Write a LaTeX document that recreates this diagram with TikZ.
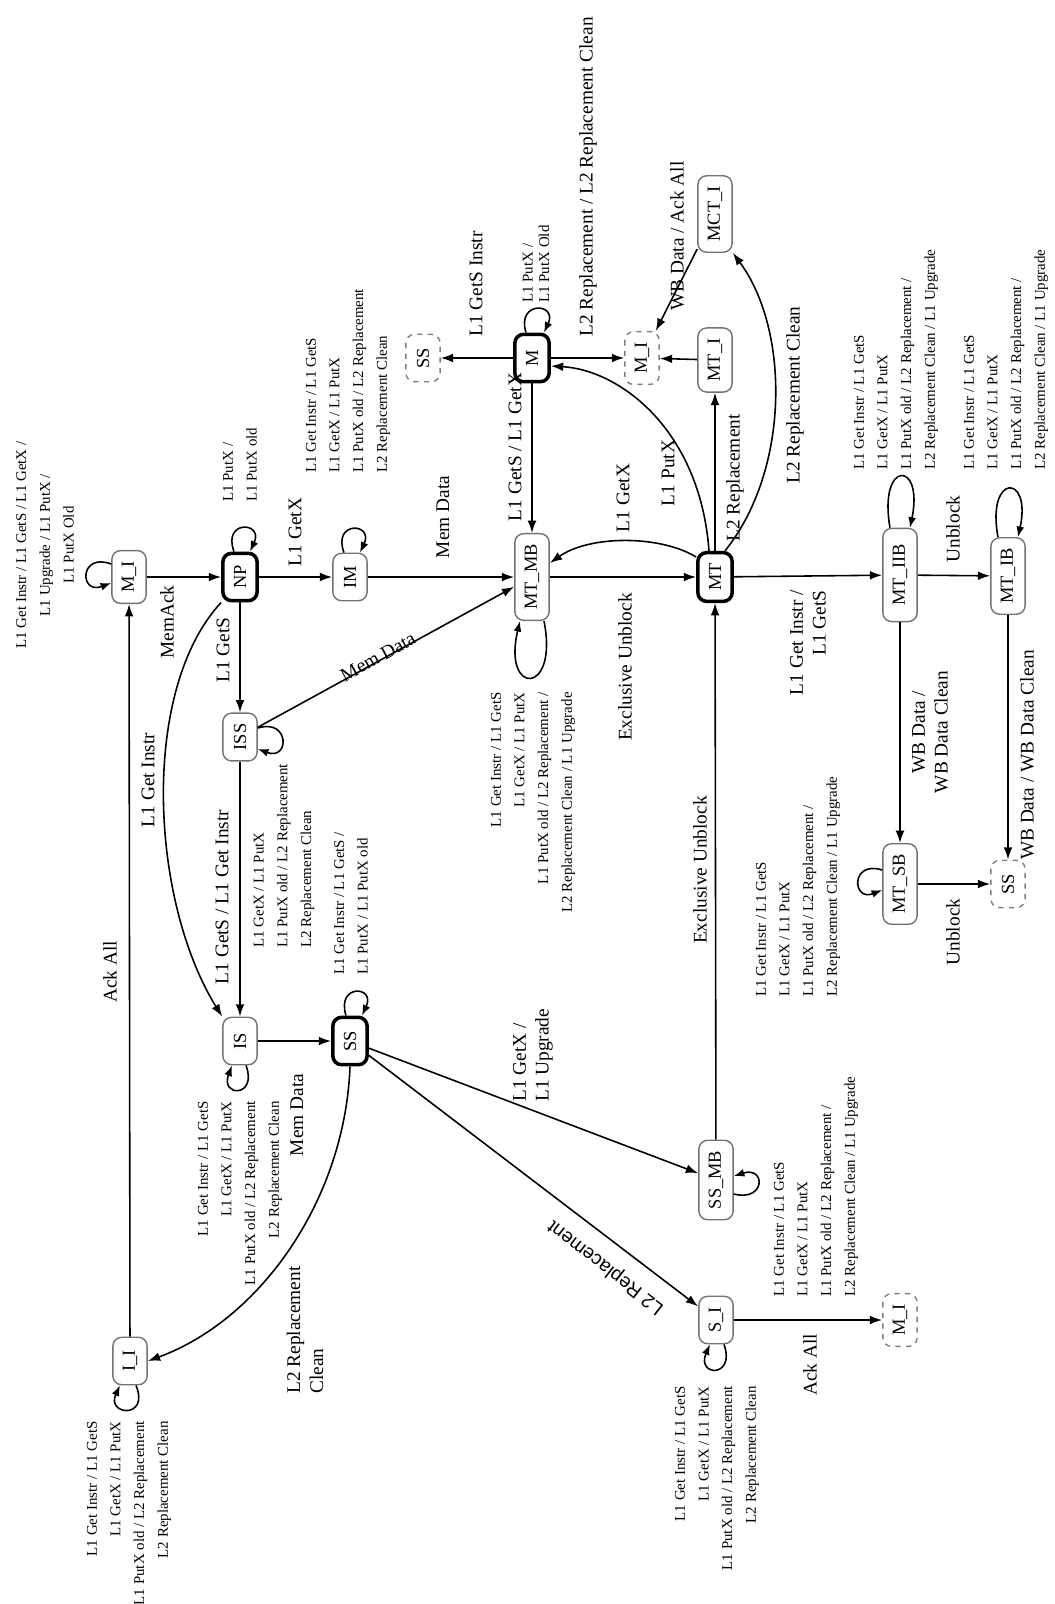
\documentclass[tikz,border=0pt]{standalone}
\usepackage{fontspec}
\setmainfont{Liberation Serif}
\newfontfamily\sansfont{Liberation Sans}
\usetikzlibrary{arrows.meta}

\tikzset{
  stbox/.style={draw=black!55, line width=0.8pt, rounded corners=5pt, rotate=90,
    minimum width=27pt, minimum height=19.5pt, inner xsep=6pt, inner ysep=2pt,
    fill=white, font=\fontsize{10.5}{12}\selectfont},
  stmain/.style={stbox, draw=black, line width=2pt},
  stref/.style={stbox, dashed, draw=black!50},
  biglab/.style={rotate=90, inner sep=0pt, font=\fontsize{11}{13}\selectfont},
  smalllab/.style={rotate=90, inner sep=0pt, font=\fontsize{8.5}{13.5}\selectfont},
  arrowline/.style={-{Latex[length=7pt,width=5pt]}, line width=0.9pt},
  loopline/.style={-{Latex[length=6pt,width=4.5pt]}, line width=0.9pt}
}

\begin{document}
\begin{tikzpicture}[x=0.2mm,y=-0.2mm]
\useasboundingbox (0,0) rectangle (1055,1604);

\node[stbox]  (mi)    at (129,577)  {M\_I};
\node[stmain] (np)    at (240,577)  {NP};
\node[stbox]  (im)    at (350,577)  {IM};
\node[stbox]  (mtmb)  at (532,577)  {MT\_MB};
\node[stmain] (mt)    at (715,577)  {MT};
\node[stbox, minimum width=53pt] (mtiib) at (900,575) {MT\_IIB};
\node[stbox]  (mtib)  at (1008,576) {MT\_IB};
\node[stref]  (ssa)   at (423,358)  {SS};
\node[stmain] (m)     at (532,358)  {M};
\node[stref]  (mia)   at (642,358)  {M\_I};
\node[stbox]  (mti)   at (715,360)  {MT\_I};
\node[stbox]  (mcti)  at (715,214)  {MCT\_I};
\node[stbox]  (iss)   at (240,737)  {ISS};
\node[stbox]  (is)    at (240,1041) {IS};
\node[stmain] (ss)    at (350,1041) {SS};
\node[stbox]  (ssmb)  at (716,1180) {SS\_MB};
\node[stbox]  (si)    at (716,1320) {S\_I};
\node[stref]  (mib)   at (900,1320) {M\_I};
\node[stbox]  (ii)    at (130,1361) {I\_I};
\node[stbox]  (mtsb)  at (900,884)  {MT\_SB};
\node[stref]  (ssb)   at (1008,884) {SS};

\draw[arrowline] (mi) -- (np);
\draw[arrowline] (np) -- (im);
\draw[arrowline] (im) -- (mtmb);
\draw[arrowline] (mtmb) -- (mt);
\draw[arrowline] (mt) -- (mtiib);
\draw[arrowline] (mtiib) -- (mtib);
\draw[arrowline] (np) -- (iss);
\draw[arrowline] (iss) -- (is);
\draw[arrowline] (iss) -- (mtmb);
\draw[arrowline] (is) -- (ss);
\draw[arrowline] (ii) -- (mi);
\draw[arrowline] (ss) -- (ssmb);
\draw[arrowline] (ss) -- (si);
\draw[arrowline] (ssmb) -- (mt);
\draw[arrowline] (si) -- (mib);
\draw[arrowline] (mtiib) -- (mtsb);
\draw[arrowline] (mtib) -- (ssb);
\draw[arrowline] (mtsb) -- (ssb);
\draw[arrowline] (m) -- (mtmb);
\draw[arrowline] (m) -- (ssa);
\draw[arrowline] (m) -- (mia);
\draw[arrowline] (mti) -- (mia);
\draw[arrowline] (mcti) -- (mia);
\draw[arrowline] (mt) -- (mti);
\draw[arrowline] (np.north west) .. controls (140,690) and (150,900) .. (is.north east);
\draw[arrowline] (ss.west) .. controls (345,1200) and (260,1320) .. (ii.south);
\draw[arrowline] ([shift={(0,-20)}]mt.north) .. controls (660,535) and (590,535) .. ([shift={(0,-14)}]mtmb.south);
\draw[arrowline] ([shift={(-6,0)}]mt.east) .. controls (700,430) and (620,370) .. ([shift={(0,8)}]m.south);
\draw[arrowline] ([shift={(10,0)}]mt.east) .. controls (790,470) and (790,330) .. (mcti.south west);

\draw[loopline] ([shift={(0,-13)}]mi.north) .. controls +(-32,-12) and +(-32,12) .. ([shift={(0,6)}]mi.north);
\draw[loopline] ([shift={(-6,0)}]np.east) .. controls +(-12,-32) and +(14,-30) .. ([shift={(10,0)}]np.east);
\draw[loopline] ([shift={(-6,0)}]im.east) .. controls +(-12,-32) and +(14,-30) .. ([shift={(10,0)}]im.east);
\draw[loopline] ([shift={(0,-9)}]iss.south) .. controls +(32,-10) and +(32,12) .. ([shift={(0,12)}]iss.south);
\draw[loopline] ([shift={(12,0)}]mtmb.west) .. controls +(15,75) and +(-18,75) .. ([shift={(-12,0)}]mtmb.west);
\draw[loopline] ([shift={(-10,0)}]mtiib.east) .. controls +(-12,-68) and +(14,-68) .. ([shift={(10,0)}]mtiib.east);
\draw[loopline] ([shift={(-10,0)}]mtib.east) .. controls +(-12,-64) and +(14,-64) .. ([shift={(10,0)}]mtib.east);
\draw[loopline] ([shift={(-6,0)}]m.east) .. controls +(-10,-32) and +(14,-30) .. ([shift={(12,0)}]m.east);
\draw[loopline] ([shift={(6,0)}]is.west) .. controls +(12,32) and +(-12,32) .. ([shift={(-8,0)}]is.west);
\draw[loopline] ([shift={(-4,0)}]ss.east) .. controls +(-10,-32) and +(14,-30) .. ([shift={(12,0)}]ss.east);
\draw[loopline] ([shift={(6,0)}]ii.west) .. controls +(14,34) and +(-14,30) .. ([shift={(-10,0)}]ii.west);
\draw[loopline] ([shift={(0,14)}]ssmb.south) .. controls +(32,8) and +(32,-10) .. ([shift={(0,-4)}]ssmb.south);
\draw[loopline] ([shift={(8,0)}]si.west) .. controls +(12,34) and +(-14,32) .. ([shift={(-6,0)}]si.west);
\draw[loopline] ([shift={(0,-14)}]mtsb.north) .. controls +(-32,-10) and +(-30,12) .. ([shift={(0,6)}]mtsb.north);

\node[biglab] (lmemack) at (167,622) {MemAck};
\node[biglab] (lgetxnp) at (295,532) {L1 GetX};
\node[biglab] (lmemdataim) at (443,517) {Mem Data};
\node[inner sep=0pt, rotate=28.7, font=\fontsize{11}{13}\selectfont] (lmemdataiss) at (378,657) {Mem Data};
\node[biglab] (lgets) at (223,650) {L1 GetS};
\node[biglab] (lgetinstr) at (148,780) {L1 Get Instr};
\node[biglab] (lgetsgetinstr) at (222,897) {L1 GetS / L1 Get Instr};
\node[biglab] (lackallii) at (110,972) {Ack All};
\node[biglab] (lmemdatais) at (297,1115) {Mem Data};
\node[biglab, align=left] (lrepcleanss) at (305,1330) {L2 Replacement\\Clean};
\node[biglab, align=left, anchor=west] (lgetxupg) at (533,1102) {L1 GetX /\\L1 Upgrade};
\node[inner sep=0pt, rotate=142.2, font=\sansfont\fontsize{11}{13}\selectfont] (lrepss) at (606,1267) {L2 Replacement};
\node[biglab] (lexunblockss) at (700,870) {Exclusive Unblock};
\node[biglab] (lackallsi) at (810,1365) {Ack All};
\node[biglab, align=right, anchor=east] (lgetinstrmt) at (808,590) {L1 Get Instr /\\L1 GetS};
\node[biglab] (lunblockiib) at (953,529) {Unblock};
\node[biglab, align=center] (lwbiib) at (930,732) {WB Data /\\WB Data Clean};
\node[biglab] (lwbib) at (1027,755) {WB Data / WB Data Clean};
\node[biglab] (lunblocksb) at (953,932) {Unblock};
\node[biglab] (lexunblockmb) at (625,667) {Exclusive Unblock};
\node[biglab] (lgetxmt) at (623,498) {L1 GetX};
\node[biglab] (lgetsgetx) at (515,447) {L1 GetS / L1 GetX};
\node[biglab] (lgetsinstr) at (476,284) {L1 GetS Instr};
\node[biglab] (lrepm) at (588,177) {L2 Replacement / L2 Replacement Clean};
\node[biglab] (lwback) at (677,236) {WB Data / Ack All};
\node[biglab] (lputx) at (668,473) {L1 PutX};
\node[biglab] (lrepmt) at (735,478) {L2 Replacement};
\node[biglab] (lrepcleanmt) at (795,395) {L2 Replacement Clean};

\node[smalllab, align=center] (lloopmi) at (45,545) {L1 Get Instr / L1 GetS / L1 GetX /\\L1 Upgrade / L1 PutX /\\L1 PutX Old};
\node[smalllab, align=left, anchor=west] (lloopnp) at (240,502) {L1 PutX /\\L1 PutX old};
\node[smalllab, align=left, anchor=west] (lloopim) at (348,473) {L1 Get Instr / L1 GetS\\L1 GetX / L1 PutX\\L1 PutX old / L2 Replacement\\L2 Replacement Clean};
\node[smalllab, align=left, anchor=west] (lloopiss) at (284,948) {L1 GetX / L1 PutX\\L1 PutX old / L2 Replacement\\L2 Replacement Clean};
\node[smalllab, align=left, anchor=west, font=\fontsize{8.5}{9.5}\selectfont] (lloopm) at (536,303) {L1 PutX /\\L1 PutX Old};
\node[smalllab, align=right, anchor=east] (lloopmtmb) at (533,692) {L1 Get Instr / L1 GetS\\L1 GetX / L1 PutX\\L1 PutX old / L2 Replacement /\\L2 Replacement Clean / L1 Upgrade};
\node[smalllab, align=right, anchor=east] (lloopis) at (240,1101) {L1 Get Instr / L1 GetS\\L1 GetX / L1 PutX\\L1 PutX old / L2 Replacement\\L2 Replacement Clean};
\node[smalllab, align=left, anchor=west] (lloopss) at (351,975) {L1 Get Instr / L1 GetS /\\L1 PutX / L1 PutX old};
\node[smalllab, align=right, anchor=east] (lloopii) at (129,1421) {L1 Get Instr / L1 GetS\\L1 GetX / L1 PutX\\L1 PutX old / L2 Replacement\\L2 Replacement Clean};
\node[smalllab, align=left, anchor=west] (lloopssmb) at (816,1297) {L1 Get Instr / L1 GetS\\L1 GetX / L1 PutX\\L1 PutX old / L2 Replacement /\\L2 Replacement Clean / L1 Upgrade};
\node[smalllab, align=right, anchor=east] (lloopsi) at (717,1386) {L1 Get Instr / L1 GetS\\L1 GetX / L1 PutX\\L1 PutX old / L2 Replacement\\L2 Replacement Clean};
\node[smalllab, align=left, anchor=west] (lloopmtiib) at (896,470) {L1 Get Instr / L1 GetS\\L1 GetX / L1 PutX\\L1 PutX old / L2 Replacement /\\L2 Replacement Clean / L1 Upgrade};
\node[smalllab, align=left, anchor=west] (lloopmtib) at (1006,470) {L1 Get Instr / L1 GetS\\L1 GetX / L1 PutX\\L1 PutX old / L2 Replacement /\\L2 Replacement Clean / L1 Upgrade};
\node[smalllab, align=left, anchor=west] (lloopmtsb) at (798,997) {L1 Get Instr / L1 GetS\\L1 GetX / L1 PutX\\L1 PutX old / L2 Replacement /\\L2 Replacement Clean / L1 Upgrade};
\end{tikzpicture}
\end{document}
